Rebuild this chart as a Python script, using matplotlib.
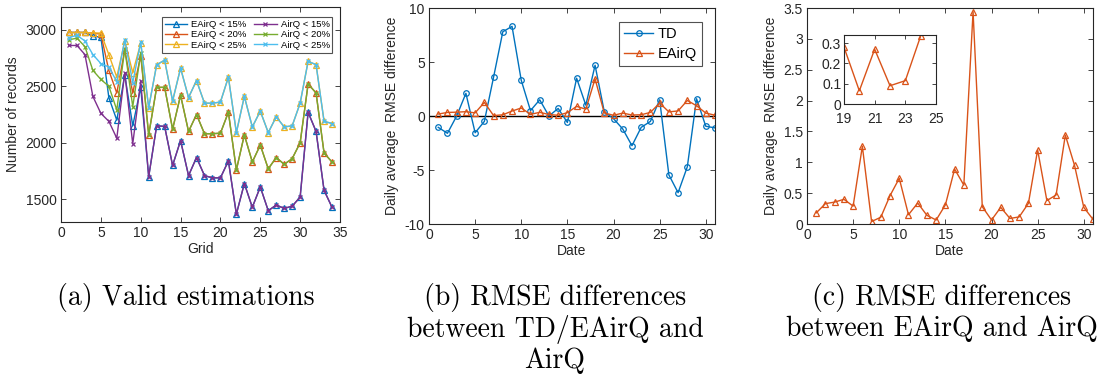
import matplotlib
matplotlib.use("Agg")
import matplotlib.pyplot as plt
import numpy as np

# ---------------- data ----------------
grid = list(range(1, 35))
eairq15 = [2975, 2975, 2975, 2940, 2935, 2400, 2200, 2600, 2150, 2490,
           1700, 2150, 2145, 1800, 2020, 1710, 1870, 1710, 1690, 1690,
           1840, 1370, 1640, 1430, 1610, 1400, 1450, 1420, 1440, 1520,
           2270, 2100, 1580, 1430]
eairq20 = [2975, 2975, 2975, 2970, 2960, 2640, 2440, 2820, 2440, 2770,
           2070, 2490, 2490, 2120, 2420, 2100, 2250, 2080, 2080, 2085,
           2270, 1760, 2070, 1830, 1980, 1770, 1870, 1810, 1860, 2000,
           2520, 2440, 1910, 1830]
eairq25 = [2975, 2975, 2975, 2970, 2970, 2780, 2580, 2900, 2620, 2880,
           2310, 2690, 2730, 2370, 2660, 2400, 2550, 2350, 2350, 2360,
           2580, 2090, 2410, 2140, 2280, 2090, 2230, 2140, 2150, 2350,
           2720, 2690, 2190, 2170]
airq15 = [2860, 2860, 2780, 2410, 2260, 2190, 2040, 2620, 1990, 2545,
          1700, 2150, 2145, 1800, 2020, 1710, 1870, 1710, 1690, 1690,
          1840, 1370, 1640, 1430, 1610, 1400, 1450, 1420, 1440, 1520,
          2270, 2100, 1580, 1430]
airq20 = [2910, 2925, 2850, 2640, 2560, 2500, 2290, 2830, 2320, 2790,
          2070, 2490, 2490, 2120, 2420, 2100, 2250, 2080, 2080, 2085,
          2270, 1760, 2070, 1830, 1980, 1770, 1870, 1810, 1860, 2000,
          2520, 2440, 1910, 1830]
airq25 = [2930, 2950, 2900, 2780, 2700, 2670, 2540, 2910, 2530, 2890,
          2310, 2690, 2730, 2370, 2660, 2400, 2550, 2350, 2350, 2360,
          2580, 2090, 2410, 2140, 2280, 2090, 2230, 2140, 2150, 2350,
          2720, 2690, 2190, 2170]

dates = list(range(1, 32))
td_diff = [-1.05, -1.6, 0.0, 2.1, -1.55, -0.5, 3.6, 7.8, 8.3, 3.3,
           0.5, 1.5, 0.0, 0.7, -0.6, 3.5, 1.0, 4.7, 0.4, -0.25,
           -1.2, -2.75, -1.05, -0.5, 1.5, -5.45, -7.1, -4.7, 1.6, -0.95, -1.1]
eairq_diff = [0.18, 0.33, 0.355, 0.40, 0.29, 1.26, 0.04, 0.11, 0.46, 0.74,
              0.15, 0.34, 0.14, 0.065, 0.31, 0.89, 0.63, 3.44, 0.28, 0.065,
              0.27, 0.09, 0.115, 0.335, 1.2, 0.38, 0.47, 1.44, 0.95, 0.27, 0.075]

series_a = [("EAirQ < 15%", eairq15), ("EAirQ < 20%", eairq20), ("EAirQ < 25%", eairq25),
            ("AirQ < 15%", airq15), ("AirQ < 20%", airq20), ("AirQ < 25%", airq25)]
captions = ["(a) Valid estimations",
            "(b) RMSE differences\nbetween TD/EAirQ and\nAirQ",
            "(c) RMSE differences\nbetween EAirQ and AirQ"]

# ---------------- style ----------------
W, H = 1116, 383
plt.rcParams['font.family'] = ['Liberation Sans', 'DejaVu Sans']
plt.rcParams['axes.unicode_minus'] = False
plt.rcParams['xtick.direction'] = 'in'
plt.rcParams['ytick.direction'] = 'in'
plt.rcParams['xtick.top'] = True
plt.rcParams['ytick.right'] = True
AX_COL = '#262626'
plt.rcParams['axes.edgecolor'] = AX_COL
plt.rcParams['xtick.color'] = AX_COL
plt.rcParams['ytick.color'] = AX_COL
plt.rcParams['axes.labelcolor'] = AX_COL
plt.rcParams['axes.linewidth'] = 0.8

colors = ['#0072BD', '#D95319', '#EDB120', '#7E2F8E', '#77AC30', '#4DBEEE']
markers = ['^', '^', '^', 'x', 'x', 'x']

fig = plt.figure(figsize=(W / 100, H / 100), dpi=100)


def rect(l, r, t, b):
    return [l / W, 1 - b / H, (r - l) / W, (b - t) / H]


def style(ax, fs=10):
    ax.tick_params(labelsize=fs, length=3.5, width=0.6, pad=3)


# ---- panel (a)
ax1 = fig.add_axes(rect(61, 340, 7, 222))
for (lab, vals), c, m in zip(series_a, colors, markers):
    ax1.plot(grid, vals, color=c, marker=m, markersize=4 if m == '^' else 3.5,
             markerfacecolor='none', linewidth=1, label=lab, markeredgewidth=0.9)
ax1.set_xlim(0, 35)
ax1.set_ylim(1300, 3200)
ax1.set_xticks(range(0, 36, 5))
ax1.set_yticks([1500, 2000, 2500, 3000])
ax1.set_xlabel("Grid", fontsize=10, labelpad=1)
ax1.set_ylabel("Number of records", fontsize=10, labelpad=4)
style(ax1)
leg = ax1.legend(ncol=2, loc='upper right', fontsize=6.8, frameon=True, fancybox=False,
                 edgecolor=AX_COL, borderpad=0.3, handlelength=2.4, handletextpad=0.4,
                 columnspacing=0.8, labelspacing=0.15, bbox_to_anchor=(0.99, 0.975))
leg.get_frame().set_linewidth(0.8)

# ---- panel (b)
ax2 = fig.add_axes(rect(429, 715, 8, 224))
ax2.axhline(0, color='black', linewidth=1)
ax2.plot(dates, td_diff, color=colors[0], marker='o', markersize=4, markerfacecolor='none',
         linewidth=1, label='TD', markeredgewidth=0.9)
ax2.plot(dates, eairq_diff, color=colors[1], marker='^', markersize=4, markerfacecolor='none',
         linewidth=1, label='EAirQ', markeredgewidth=0.9)
ax2.set_xlim(0, 31)
ax2.set_ylim(-10, 10)
ax2.set_xticks(range(0, 31, 5))
ax2.set_yticks([-10, -5, 0, 5, 10])
ax2.set_xlabel("Date", fontsize=10, labelpad=1)
ax2.set_ylabel("Daily average  RMSE difference", fontsize=10, labelpad=4)
style(ax2)
leg2 = ax2.legend(loc='upper right', fontsize=10.5, frameon=True, fancybox=False,
                  edgecolor=AX_COL, borderpad=0.35, handlelength=2.0, handletextpad=0.3,
                  labelspacing=0.4, bbox_to_anchor=(0.98, 0.97))
leg2.get_frame().set_linewidth(0.8)

# ---- panel (c)
ax3 = fig.add_axes(rect(807, 1093, 8, 224))
ax3.plot(dates, eairq_diff, color=colors[1], marker='^', markersize=4, markerfacecolor='none',
         linewidth=1, markeredgewidth=0.9)
ax3.set_xlim(0, 31)
ax3.set_ylim(0, 3.5)
ax3.set_xticks(range(0, 31, 5))
ax3.set_yticks(np.arange(0, 3.51, 0.5))
ax3.set_yticklabels(['0', '0.5', '1', '1.5', '2', '2.5', '3', '3.5'])
ax3.set_xlabel("Date", fontsize=10, labelpad=1)
ax3.set_ylabel("Daily average  RMSE difference", fontsize=10, labelpad=4)
style(ax3)

# inset
ax4 = fig.add_axes(rect(844, 936, 35, 104))
ax4.plot(dates, eairq_diff, color=colors[1], marker='^', markersize=4, markerfacecolor='none',
         linewidth=1, markeredgewidth=0.9)
ax4.set_xlim(19, 25)
ax4.set_ylim(0, 0.34)
ax4.set_xticks([19, 21, 23, 25])
ax4.set_yticks([0, 0.1, 0.2, 0.3])
ax4.set_yticklabels(['0', '0.1', '0.2', '0.3'])
ax4.tick_params(labelsize=10, length=3, width=0.6)
ax4.tick_params(axis='x', pad=5.5)
ax4.tick_params(axis='y', pad=2)

# ---- captions
cap_x = [186, 555, 942]
for x, txt in zip(cap_x, captions):
    fig.text(x / W, 1 - 283 / H, txt, ha='center', va='top', fontsize=20,
             family='cmr10', linespacing=1.15, color='black')

fig.savefig("out.png", dpi=100)
